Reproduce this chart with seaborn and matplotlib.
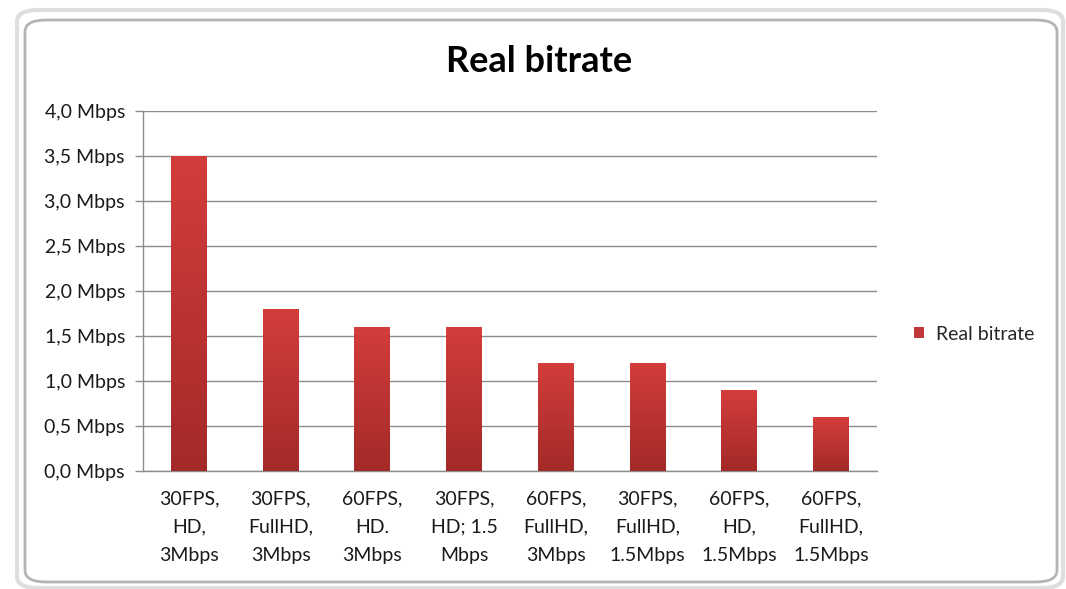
import pandas as pd
import matplotlib.pyplot as plt
import seaborn as sb
import numpy as np
from matplotlib.patches import FancyBboxPatch
from matplotlib.colors import LinearSegmentedColormap
from matplotlib.ticker import FuncFormatter, MultipleLocator

# data
configs = ['30FPS,\nHD,\n3Mbps', '30FPS,\nFullHD,\n3Mbps', '60FPS,\nHD.\n3Mbps',
           '30FPS,\nHD; 1.5\nMbps', '60FPS,\nFullHD,\n3Mbps', '30FPS,\nFullHD,\n1.5Mbps',
           '60FPS,\nHD,\n1.5Mbps', '60FPS,\nFullHD,\n1.5Mbps']
bitrate = [3.5, 1.8, 1.6, 1.6, 1.2, 1.2, 0.9, 0.6]
series_name = 'Real bitrate'

df = pd.DataFrame({'config': configs, 'bitrate': bitrate})

sb.set_style('white')
plt.rcParams['font.family'] = ['Lato', 'DejaVu Sans']

fig = plt.figure(figsize=(10.66, 5.89), dpi=100)
fig.patch.set_facecolor('white')

# chart area frame (rounded, like the Excel chart object), with a light outer band
outer = FancyBboxPatch((17 / 1066, 1 - 588 / 589), 1046 / 1066, 578 / 589,
                       boxstyle='round,pad=0,rounding_size=0.02',
                       transform=fig.transFigure, facecolor='none',
                       edgecolor='#dedede', linewidth=3.0, zorder=0)
frame = FancyBboxPatch((25 / 1066, 1 - 582 / 589), 1032 / 1066, 562 / 589,
                       boxstyle='round,pad=0,rounding_size=0.02',
                       transform=fig.transFigure, facecolor='none',
                       edgecolor='#b4b4b4', linewidth=2.0, zorder=0)
fig.patches.append(outer)
fig.patches.append(frame)

ax = fig.add_axes([143 / 1066, 1 - 471 / 589, 734 / 1066, 360 / 589])
ax.set_facecolor('none')

sb.barplot(data=df, x='config', y='bitrate', ax=ax, color='#c0392b', width=0.39,
           label=series_name, zorder=3)

# vertical gradient on each bar, clipped to the bar shape
cmap = LinearSegmentedColormap.from_list('bar', ['#a32a28', '#d33d3b'])
grad = np.linspace(0, 1, 256).reshape(-1, 1)
for p in ax.patches:
    x0, y0 = p.get_x(), p.get_y()
    w, h = p.get_width(), p.get_height()
    im = ax.imshow(grad, cmap=cmap, origin='lower', aspect='auto',
                   extent=[x0, x0 + w, y0, y0 + h], zorder=4)
    im.set_clip_path(p)
    p.set_edgecolor('none')

ax.set_xlim(-0.5, len(configs) - 0.5)
ax.set_ylim(0, 4.0)
ax.yaxis.set_major_locator(MultipleLocator(0.5))
ax.yaxis.set_major_formatter(FuncFormatter(lambda v, _: '{:.1f} Mbps'.format(v).replace('.', ',')))
ax.grid(axis='y', color='#8c8c8c', linewidth=1.0)
ax.set_axisbelow(True)

# x ticks sit between categories, labels centered below bars
ax.set_xticks(np.arange(len(configs) + 1) - 0.5, minor=True)
ax.set_xticks(np.arange(len(configs)))
ax.set_xticklabels(configs, linespacing=1.8, fontsize=14, color='#1a1a1a')
ax.tick_params(axis='x', which='major', length=0, pad=14)
ax.tick_params(axis='x', which='minor', length=6, width=1, color='#8c8c8c', direction='out')
ax.tick_params(axis='y', length=6, width=1, color='#8c8c8c', direction='out',
               labelsize=14, labelcolor='#1a1a1a', left=True, pad=7)
ax.set_xlabel('')
ax.set_ylabel('')

for s in ['top', 'right']:
    ax.spines[s].set_visible(False)
for s in ['left', 'bottom']:
    ax.spines[s].set_color('#8c8c8c')
    ax.spines[s].set_linewidth(1.0)

fig.text(539 / 1066, 1 - 62 / 589, 'Real bitrate', ha='center', va='center',
         fontsize=26, fontweight='bold', color='black')

leg = ax.legend(loc='center left', bbox_to_anchor=(896 / 1066, 1 - 334 / 589),
                bbox_transform=fig.transFigure, frameon=False, fontsize=14,
                handlelength=0.55, handleheight=0.55, handletextpad=0.6)
for h in leg.legend_handles:
    h.set_facecolor('#c0393a')

fig.savefig('out.png', dpi=100)
